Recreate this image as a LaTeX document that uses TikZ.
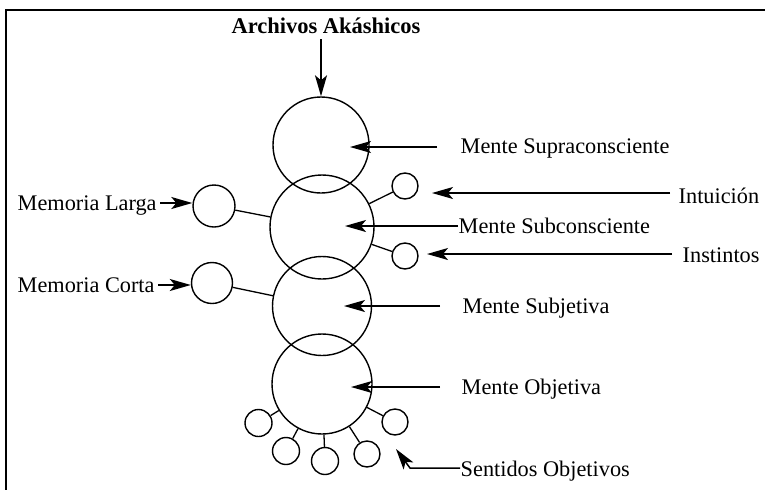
\documentclass[tikz,border=0pt]{standalone}
\usepackage{fontspec}
\setmainfont{Liberation Serif}
\usetikzlibrary{arrows.meta}
\tikzset{
  bigc/.style={circle,draw,minimum size=#1,inner sep=0pt},
  smallc/.style={circle,draw,minimum size=#1,inner sep=0pt},
  lbl/.style={anchor=base west,inner sep=0pt,font=\fontsize{22.3}{26}\selectfont},
  arr/.style={line width=1.5pt,-{Stealth[length=21pt,width=12pt,inset=5pt]}},
  conn/.style={line width=1.3pt},
}
\begin{document}
\begin{tikzpicture}[x=1pt,y=-1pt,line width=1.4pt]
\useasboundingbox (0,0) rectangle (765,490);
% frame
\draw[line width=2pt] (765,10) -- (6,10) -- (6,490);
% big circles
\node[bigc=96pt]  (c1) at (321,145) {};
\node[bigc=104pt] (c2) at (322,227) {};
\node[bigc=99pt]  (c3) at (322,306) {};
\node[bigc=100pt] (c4) at (322,384) {};
% small circles
\node[smallc=42pt] (ml) at (214,206) {};
\node[smallc=41pt] (mc) at (212,283) {};
\node[smallc=26pt] (si) at (405,186) {};
\node[smallc=26pt] (sn) at (405,256) {};
\node[smallc=27pt] (o1) at (258.5,423) {};
\node[smallc=27pt] (o2) at (286,451) {};
\node[smallc=27pt] (o3) at (325,461) {};
\node[smallc=26pt] (o4) at (367,454) {};
\node[smallc=26pt] (o5) at (395,422) {};
% connectors small circles
\draw[conn] (c2) -- (ml);
\draw[conn] (c3) -- (mc);
\draw[conn] (c2) -- (si);
\draw[conn] (c2) -- (sn);
\foreach \s in {o1,o2,o3,o4,o5} \draw[conn] (c4) -- (\s);
% labels
\node[anchor=base,inner sep=0pt,font=\fontsize{22.5}{26}\selectfont\bfseries] (ak) at (326,33) {Archivos Akáshicos};
\node[lbl] (lsup) at (460,153) {Mente Supraconsciente};
\node[lbl] (lint) at (678,203) {Intuición};
\node[lbl] (lsub) at (458,233) {Mente Subconsciente};
\node[lbl] (lins) at (682,262) {Instintos};
\node[lbl] (lsj)  at (462,313) {Mente Subjetiva};
\node[lbl] (lobj) at (461,394) {Mente Objetiva};
\node[lbl] (lsen) at (460,476) {Sentidos Objetivos};
\node[lbl] (lml)  at (17,210) {Memoria Larga};
\node[lbl] (lmc)  at (17,292) {Memoria Corta};
% arrow tips
\coordinate (t1) at (350,147);
\coordinate (t2) at (345,226);
\coordinate (t3) at (344,306);
\coordinate (t4) at (351,387);
\coordinate (ti) at (432,193);
\coordinate (tn) at (427,254);
\coordinate (sbend) at (410,468);
\coordinate (stip) at (396,449);
% arrows
\draw[arr] (c1.north |- 0,39) -- (c1.north);
\draw[arr,shorten <=23pt] (lsup.west |- t1) -- (t1);
\draw[arr] (lsub.west |- t2) -- (t2);
\draw[arr,shorten <=22pt] (lsj.west |- t3) -- (t3);
\draw[arr,shorten <=21pt] (lobj.west |- t4) -- (t4);
\draw[arr,shorten <=8pt] (lint.west |- ti) -- (ti);
\draw[arr,shorten <=10pt] (lins.west |- tn) -- (tn);
\draw[arr] (lsen.west |- sbend) -- (sbend) -- (stip);
\draw[arr,shorten <=3pt] (lml.east |- 0,203) -- (ml.west |- 0,203);
\draw[arr,shorten <=3pt] (lmc.east |- 0,285) -- (mc.west |- 0,285);
\end{tikzpicture}
\end{document}
